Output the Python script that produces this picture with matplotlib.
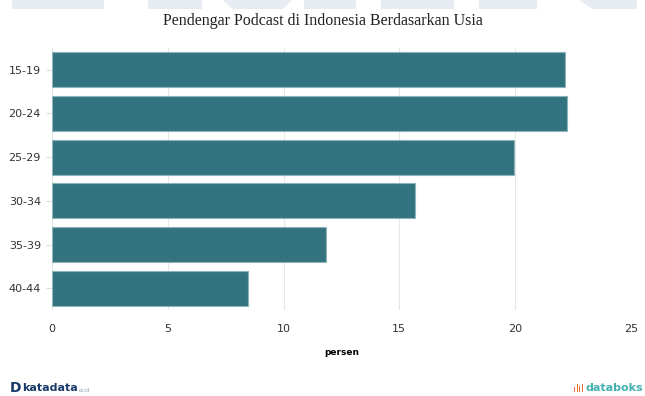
import matplotlib
matplotlib.use("Agg")
import matplotlib.pyplot as plt
from matplotlib.patches import Polygon, Rectangle

# data
kelompok_usia = ["15-19", "20-24", "25-29", "30-34", "35-39", "40-44"]
persen = [22.15, 22.25, 19.95, 15.7, 11.85, 8.45]
x_ticks = [0, 5, 10, 15, 20, 25]

warna_bar = "#33737f"
W, H = 645, 396

fig = plt.figure(figsize=(6.45, 3.96), dpi=100)
ax = fig.add_axes([0.0806, 0.217, 0.8974, 0.662])

# watermark samar di bagian atas (potongan huruf besar)
potongan = [(12, 104, 12, 104), (148, 202, 148, 202), (223, 292, 232, 283),
            (304, 356, 304, 356), (381, 454, 381, 454), (479, 537, 479, 537),
            (579, 637, 592, 637)]
for x0a, x1a, x0b, x1b in potongan:
    pts = [(x0a / W, 1.0), (x1a / W, 1.0), (x1b / W, 1 - 9 / H), (x0b / W, 1 - 9 / H)]
    fig.patches.append(Polygon(pts, closed=True, transform=fig.transFigure,
                               facecolor="#e7ecf3", edgecolor="none", zorder=0))

ax.barh(kelompok_usia, persen, height=0.8, color=warna_bar,
        edgecolor="#8fb3ba", linewidth=0.8, zorder=3)

ax.set_xlim(0, 25)
ax.set_ylim(5.5, -0.5)
ax.set_xticks(x_ticks)
ax.grid(axis="x", color="#e6e6e6", linewidth=0.8, zorder=0)
ax.set_axisbelow(True)
for s in ax.spines.values():
    s.set_visible(False)
ax.tick_params(axis="x", length=0, pad=10, labelsize=8, labelcolor="#333333")
ax.tick_params(axis="y", length=4, color="#dddddd", pad=4, labelsize=8,
               labelcolor="#333333")
ax.axvline(0, color="#e6e6e6", linewidth=0.8, zorder=1)

ax.set_xlabel("persen", fontsize=6.5, fontweight="bold", labelpad=10)

fig.text(0.5, 0.947, "Pendengar Podcast di Indonesia Berdasarkan Usia",
         ha="center", va="center", fontsize=11.5, family="Liberation Serif",
         color="#222222")

# footer
fig.text(0.015, 0.02, "D", ha="left", va="center", fontsize=10,
         fontweight="bold", color="#1a3a6b")
fig.text(0.034, 0.02, "katadata", ha="left", va="center", fontsize=8,
         fontweight="bold", color="#1a3a6b")
fig.text(0.122, 0.015, "co.id", ha="left", va="center", fontsize=3.5,
         color="#8a9bb5")
fig.text(0.997, 0.02, "databoks", ha="right", va="center", fontsize=8,
         fontweight="bold", color="#45b0b0")
# ikon kecil databoks
for dx, hh in [(0, 5), (2.5, 8), (5, 6), (7.5, 8)]:
    fig.patches.append(Rectangle(((574 + dx) / W, 4 / H), 1.3 / W, hh / H,
                                 transform=fig.transFigure, facecolor="#e8703a",
                                 edgecolor="none"))

fig.savefig("out.png", dpi=100)
